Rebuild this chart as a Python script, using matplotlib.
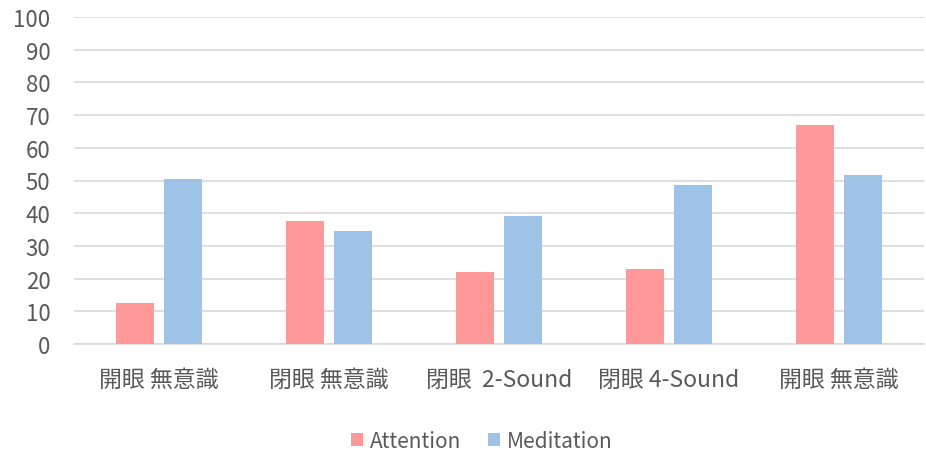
import matplotlib
matplotlib.use("Agg")
import matplotlib.pyplot as plt
import numpy as np

categories = ["開眼 無意識", "閉眼 無意識", "閉眼  2-Sound", "閉眼 4-Sound", "開眼 無意識"]
attention = [12.5, 37.7, 22.0, 22.9, 66.9]
meditation = [50.6, 34.6, 39.0, 48.7, 51.8]
series_names = ["Attention", "Meditation"]
colors = ["#ff9999", "#9fc3e6"]

plt.rcParams['font.family'] = ['Noto Sans CJK JP', 'DejaVu Sans']

fig = plt.figure(figsize=(9.26, 4.52), dpi=100)
ax = fig.add_axes([74/926, 1-345/452, (924-74)/926, (345-18)/452])

x = np.arange(len(categories))
w = 0.2235
off = 0.142
ax.bar(x - off, attention, w, color=colors[0], label=series_names[0], zorder=3)
ax.bar(x + off, meditation, w, color=colors[1], label=series_names[1], zorder=3)

ax.set_xlim(-0.5, len(categories) - 0.5)
ax.set_ylim(0, 100)
ax.set_yticks(np.arange(0, 101, 10))
ax.set_xticks(x)
ax.set_xticklabels(categories)
ax.yaxis.grid(True, color="#d9d9d9", linewidth=1.2, zorder=0)
ax.set_axisbelow(True)
for s in ["top", "right", "left"]:
    ax.spines[s].set_visible(False)
ax.spines["bottom"].set_color("#d9d9d9")
ax.spines["bottom"].set_linewidth(1.2)
ax.tick_params(axis="both", length=0, colors="#595959")
ax.tick_params(axis="x", pad=17, labelsize=16.5)
ax.tick_params(axis="y", pad=17, labelsize=16)

leg = fig.legend(loc="center", bbox_to_anchor=(482/926, 1-442/452), ncol=2, frameon=False,
                 fontsize=15, handlelength=0.55, handleheight=0.55, handletextpad=0.35, columnspacing=1.3)
for t in leg.get_texts():
    t.set_color("#595959")

fig.savefig("out.png", dpi=100)
